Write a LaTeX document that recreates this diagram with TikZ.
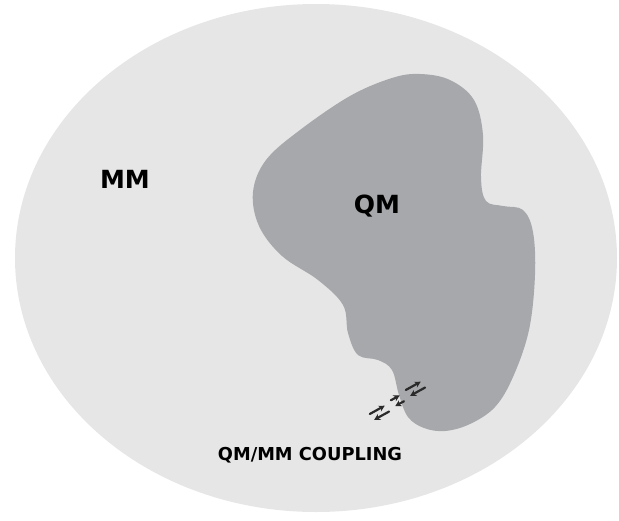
\documentclass[tikz,border=0pt]{standalone}
\usepackage{fontspec}
\setmainfont{DejaVu Sans}
\usetikzlibrary{arrows.meta}
\definecolor{mmgray}{HTML}{E6E6E6}
\definecolor{qmgray}{HTML}{A7A8AB}
\definecolor{arrowgray}{HTML}{2A2A2A}
\begin{document}
\begin{tikzpicture}[x=1pt,y=-1pt,
  region/.style={font=\bfseries\fontsize{25}{30}\selectfont, anchor=base, inner sep=0pt},
  caption/.style={font=\bfseries\fontsize{17.8}{20}\selectfont, anchor=base, inner sep=0pt},
  swap/.style={draw=arrowgray, line width=2.2pt, line cap=round, -{Stealth[length=6pt,width=6.5pt]}}]
\useasboundingbox (0,0) rectangle (619,520);
% MM environment
\fill[mmgray] (316,258) ellipse [x radius=301, y radius=254];
% QM region
\fill[qmgray] plot[smooth cycle, tension=0.6] coordinates {
  (420,74) (450,80) (474,100) (483,135) (481,178) (486,201) (503,206) (523,210)
  (533,232) (535,275) (529,330) (513,377) (495,407) (470,424) (445,431)
  (424,428) (408,417) (399,395) (392,370) (378,360) (358,355) (348,333)
  (343,305) (318,280) (282,256) (259,226) (253,192) (266,160) (300,130)
  (350,96) (392,78)};
% labels
\node[region] (mm) at (125,188) {MM};
\node[region] (qm) at (377,213) {QM};
\node[caption] (cpl) at (310,460) {QM/MM COUPLING};
% coupling exchange arrows
\foreach \cx/\cy/\len [count=\i] in {415/389/8.5, 397/401/5, 379/413/8.5} {
  \begin{scope}[shift={(\cx,\cy)}, rotate=29]
    \coordinate (a\i) at (-\len,-3.6);
    \coordinate (b\i) at (\len,-3.6);
    \coordinate (c\i) at (-\len+1,3.6);
    \coordinate (d\i) at (\len+1,3.6);
    \draw[swap] (a\i) -- (b\i);
    \draw[swap] (d\i) -- (c\i);
  \end{scope}
}
\end{tikzpicture}
\end{document}
